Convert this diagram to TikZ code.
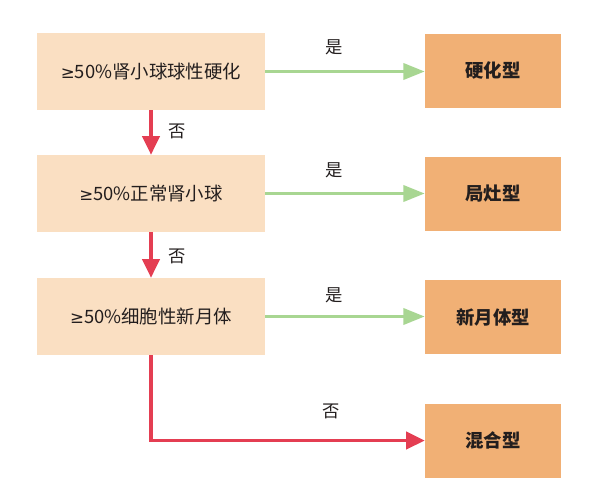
\documentclass[tikz,border=0pt]{standalone}
\usepackage{fontspec}
\setmainfont{Noto Sans CJK SC}
\newfontfamily\symfont{DejaVu Sans}
\newcommand{\mygeq}{{\symfont\fontsize{12.5pt}{15pt}\selectfont ≥}}
\usetikzlibrary{arrows.meta}
\definecolor{lbox}{RGB}{250,223,194}
\definecolor{rbox}{RGB}{241,176,117}
\definecolor{garrow}{RGB}{168,214,146}
\definecolor{rarrow}{RGB}{228,62,82}
\definecolor{txt}{RGB}{35,30,30}
\begin{document}
\begin{tikzpicture}[x=0.75pt,y=-0.75pt,
  condbox/.style={fill=lbox,draw=none,minimum width=228*0.75pt,minimum height=77*0.75pt,inner sep=0pt,font=\fontsize{13.8pt}{16pt}\selectfont,text=txt},
  typebox/.style={fill=rbox,draw=none,minimum width=136*0.75pt,minimum height=74*0.75pt,inner sep=0pt,font=\fontsize{13.8pt}{16pt}\selectfont\bfseries,text=txt},
  yesarrow/.style={draw=garrow,line width=2.6pt,-{Triangle[length=16pt,width=12pt]}},
  noarrow/.style={draw=rarrow,line width=2.6pt,-{Triangle[length=14pt,width=13pt]}},
  lbl/.style={font=\fontsize{13pt}{15pt}\selectfont,text=txt,inner sep=0pt}]
\useasboundingbox[fill=white] (0,0) rectangle (598,497);
\node[condbox] (c1) at (151,71.5) {\mygeq50\%肾小球球性硬化};
\node[condbox] (c2) at (151,193.5) {\mygeq50\%正常肾小球};
\node[condbox] (c3) at (151,316.5) {\mygeq50\%细胞性新月体};
\node[typebox] (t1) at (493,70.5) {硬化型};
\node[typebox] (t2) at (493,194) {局灶型};
\node[typebox] (t3) at (493,317) {新月体型};
\node[typebox] (t4) at (493,440.5) {混合型};
\draw[yesarrow] (c1.east) -- (t1.west |- c1.east);
\draw[yesarrow] (c2.east) -- (t2.west |- c2.east);
\draw[yesarrow] (c3.east) -- (t3.west |- c3.east);
\draw[noarrow] (c1.south) -- (c2.north);
\draw[noarrow] (c2.south) -- (c3.north);
\draw[noarrow] (c3.south) |- (t4.west);
\node[lbl] (y1) at (334,47) {是};
\node[lbl] (y2) at (334,170) {是};
\node[lbl] (y3) at (334,295) {是};
\node[lbl] (n1) at (177,131) {否};
\node[lbl] (n2) at (177,256) {否};
\node[lbl] (n3) at (331,411) {否};
\end{tikzpicture}
\end{document}
